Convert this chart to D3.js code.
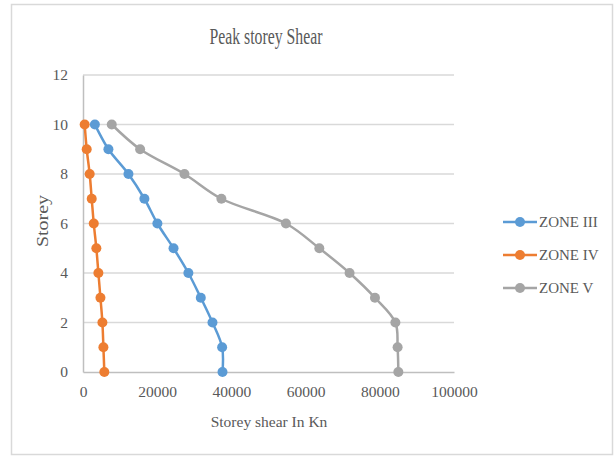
<!DOCTYPE html>
<html>
<head>
<meta charset="utf-8">
<script src="https://cdn.jsdelivr.net/npm/d3@7"></script>
<style>
  html, body { margin: 0; padding: 0; background: #fff; }
  svg { display: block; }
  text { font-family: "Liberation Serif", "Times New Roman", serif; fill: #595959; }
</style>
</head>
<body>
<svg id="chart" width="615" height="457"></svg>
<script>
const storeys = [0, 1, 2, 3, 4, 5, 6, 7, 8, 9, 10];
const zoneIII = [37600, 37500, 34900, 31750, 28400, 24400, 20050, 16550, 12250, 6850, 3200];
const zoneIV  = [5750, 5500, 5230, 4700, 4150, 3600, 2900, 2350, 1800, 1000, 450];
const zoneV   = [85000, 84800, 84200, 78700, 71850, 63700, 54700, 37300, 27350, 15400, 7750];
const seriesNames = ["ZONE III", "ZONE IV", "ZONE V"];
const seriesColors = ["#5B9BD5", "#ED7D31", "#A5A5A5"];
const xTicks = [0, 20000, 40000, 60000, 80000, 100000];
const yTicks = [0, 2, 4, 6, 8, 10, 12];

const svg = d3.select("#chart");

// chart border
svg.append("rect")
  .attr("x", 11.5).attr("y", 4.5).attr("width", 601).attr("height", 450)
  .attr("fill", "#fff").attr("stroke", "#d9d9d9").attr("stroke-width", 1.5);

const x = d3.scaleLinear().domain([0, 100000]).range([83, 454]);
const y = d3.scaleLinear().domain([0, 12]).range([372, 75]);

// gridlines
svg.append("g").selectAll("line").data(yTicks.filter(d => d > 0)).join("line")
  .attr("x1", x(0)).attr("x2", x(100000))
  .attr("y1", d => y(d)).attr("y2", d => y(d))
  .attr("stroke", "#d9d9d9").attr("stroke-width", 1.5);

// axes
const xAxis = svg.append("g").attr("transform", `translate(0,${y(0)})`)
  .call(d3.axisBottom(x).tickValues(xTicks).tickSize(0).tickPadding(14).tickFormat(d3.format("d")));
const yAxis = svg.append("g").attr("transform", `translate(${x(0)},0)`)
  .call(d3.axisLeft(y).tickValues(yTicks).tickSize(0).tickPadding(15).tickFormat(d3.format("d")));
[xAxis, yAxis].forEach(a => {
  a.select(".domain").attr("stroke", "#bfbfbf").attr("stroke-width", 1.5);
  a.selectAll("text").attr("font-size", 15.5).attr("fill", "#595959")
    .attr("font-family", '"Liberation Serif", serif');
});

// series
const data = [zoneIII, zoneIV, zoneV];
const line = d3.line().curve(d3.curveCatmullRom.alpha(0.5));
data.forEach((vals, i) => {
  const pts = vals.map((v, j) => [x(v), y(storeys[j])]);
  svg.append("path").attr("d", line(pts))
    .attr("fill", "none").attr("stroke", seriesColors[i]).attr("stroke-width", 2.5);
  svg.append("g").selectAll("circle").data(pts).join("circle")
    .attr("cx", d => d[0]).attr("cy", d => d[1]).attr("r", 5)
    .attr("fill", seriesColors[i]);
});

// title
svg.append("text").attr("x", 266).attr("y", 44).attr("text-anchor", "middle")
  .attr("font-size", 23).attr("textLength", 113).attr("lengthAdjust", "spacingAndGlyphs")
  .text("Peak storey Shear");

// axis titles
svg.append("text").attr("x", 269).attr("y", 427).attr("text-anchor", "middle")
  .attr("font-size", 15.5).text("Storey shear In Kn");
svg.append("text").attr("transform", "translate(48,221) rotate(-90)")
  .attr("text-anchor", "middle").attr("font-size", 17)
  .attr("textLength", 52).attr("lengthAdjust", "spacingAndGlyphs").text("Storey");

// legend
const legend = svg.append("g");
seriesNames.forEach((name, i) => {
  const ly = 222 + i * 33;
  legend.append("line").attr("x1", 503).attr("x2", 537).attr("y1", ly).attr("y2", ly)
    .attr("stroke", seriesColors[i]).attr("stroke-width", 2.5);
  legend.append("circle").attr("cx", 520).attr("cy", ly).attr("r", 5).attr("fill", seriesColors[i]);
  legend.append("text").attr("x", 539).attr("y", ly + 5).attr("font-size", 15).text(name);
});
</script>
</body>
</html>
